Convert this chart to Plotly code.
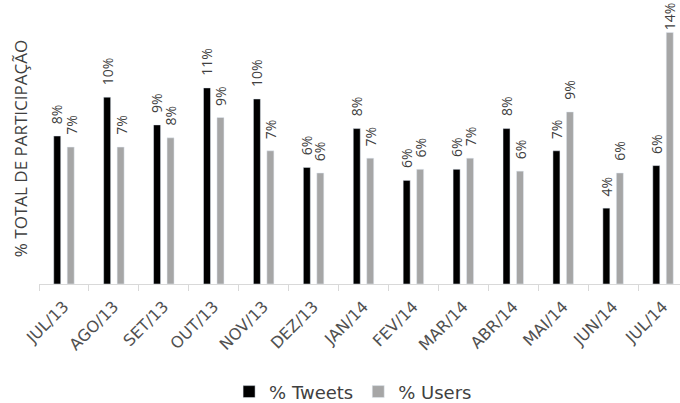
import plotly.graph_objects as go

# Monthly share of tweets and users (%)
months = ["JUL/13", "AGO/13", "SET/13", "OUT/13", "NOV/13", "DEZ/13", "JAN/14",
          "FEV/14", "MAR/14", "ABR/14", "MAI/14", "JUN/14", "JUL/14"]
tweets = [8.0, 10.1, 8.6, 10.6, 10.0, 6.3, 8.4, 5.6, 6.2, 8.4, 7.2, 4.1, 6.4]
users = [7.4, 7.4, 7.9, 9.0, 7.2, 6.0, 6.8, 6.2, 6.8, 6.1, 9.3, 6.0, 13.6]

TWEET_COLOR = "#000000"
USER_COLOR = "#A6A6A6"
TEXT_COLOR = "#404040"
AXIS_COLOR = "#D9D9D9"

BARGAP = 0.46
BARGROUPGAP = 0.48
Y_MAX = 15.35

fig = go.Figure()
fig.add_trace(go.Bar(name="% Tweets", x=months, y=tweets, marker_color=TWEET_COLOR))
fig.add_trace(go.Bar(name="% Users", x=months, y=users, marker_color=USER_COLOR))

# rotated value labels above each bar
slot = (1 - BARGAP) / 2
annotations = []
for series, side in ((tweets, -1), (users, 1)):
    for i, v in enumerate(series):
        annotations.append(dict(
            x=i + side * slot / 2, y=v, xref="x", yref="y",
            text=f"{round(v)}%", showarrow=False, textangle=-90,
            xanchor="center", yanchor="bottom",
            yshift=10 if v < 12 else 0,
            font=dict(family="Open Sans", size=14, color=TEXT_COLOR),
        ))

# vertical axis title
annotations.append(dict(
    x=-0.0296, y=0.475, xref="paper", yref="paper",
    text="% TOTAL DE PARTICIPAÇÃO", showarrow=False, textangle=-90,
    xanchor="center", yanchor="middle",
    font=dict(family="Open Sans", size=17, color=TEXT_COLOR),
))

fig.update_layout(
    width=680, height=403,
    margin=dict(l=39, r=0, t=0, b=119, autoexpand=False),
    paper_bgcolor="white", plot_bgcolor="white",
    barmode="group", bargap=BARGAP, bargroupgap=BARGROUPGAP,
    showlegend=True,
    legend=dict(orientation="h", x=0.49, xanchor="center", y=-0.38, yanchor="middle",
                font=dict(family="DejaVu Sans", size=18, color=TEXT_COLOR),
                itemwidth=30, traceorder="normal"),
    annotations=annotations,
)
fig.update_xaxes(
    range=[-0.5, 12.34], showline=True, linecolor=AXIS_COLOR, linewidth=1,
    ticks="outside", tickson="boundaries", ticklen=6, tickcolor=AXIS_COLOR,
    tickangle=-45, showgrid=False, ticklabelstandoff=6, automargin=False,
    tickfont=dict(family="DejaVu Sans", size=16, color="#505050"),
)
fig.update_yaxes(range=[0, Y_MAX], visible=False, showgrid=False)

fig.write_html("out.html")
